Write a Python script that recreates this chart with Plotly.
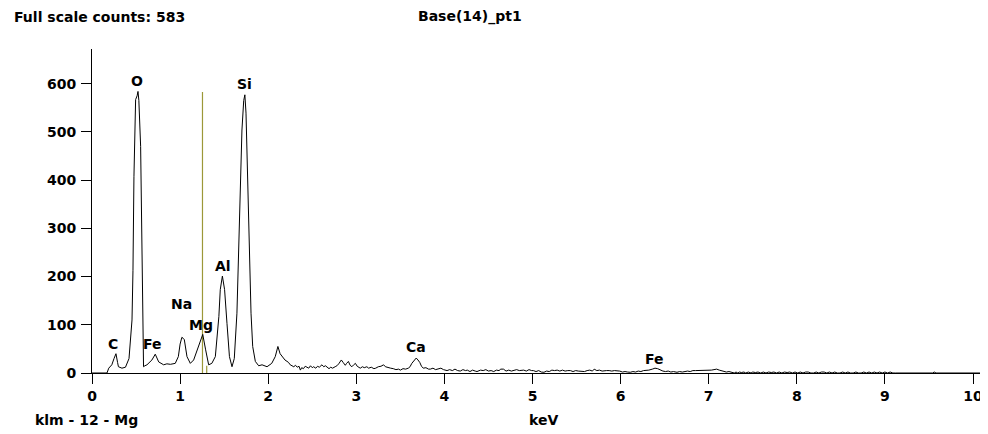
import plotly.graph_objects as go

# ---- data ----
energy_kev = [
    0.00, 0.17, 0.19, 0.225, 0.25, 0.272, 0.29, 0.30, 0.34, 0.38, 0.42, 0.44, 0.454, 0.465, 0.476,
    0.495, 0.512, 0.522, 0.532, 0.552, 0.563, 0.571, 0.578, 0.585, 0.60, 0.624, 0.68, 0.718, 0.757,
    0.813, 0.85, 0.89, 0.945, 0.98, 1.00, 1.02, 1.035, 1.048, 1.078, 1.116, 1.154, 1.21, 1.257,
    1.29, 1.324, 1.36, 1.40, 1.44, 1.456, 1.48, 1.505, 1.532, 1.56, 1.589, 1.615, 1.645, 1.664,
    1.683, 1.702, 1.722, 1.735, 1.748, 1.767, 1.786, 1.805, 1.824, 1.854, 1.892, 1.93, 1.987,
    2.04, 2.08, 2.11, 2.135, 2.17, 2.19, 2.23, 2.25,
    2.29, 2.31, 2.33, 2.35, 2.365, 2.38, 2.40, 2.42, 2.44, 2.46, 2.48, 2.50, 2.515, 2.54, 2.56,
    2.58, 2.61, 2.63, 2.65, 2.67, 2.69, 2.71, 2.73, 2.76, 2.78, 2.80, 2.83, 2.85, 2.875, 2.89,
    2.91, 2.93, 2.95, 2.97, 2.99, 3.01, 3.03, 3.045, 3.07, 3.09, 3.12, 3.14, 3.17, 3.20, 3.22,
    3.25, 3.28, 3.31, 3.33, 3.36, 3.39, 3.42, 3.45, 3.48, 3.50, 3.53, 3.56, 3.59, 3.61, 3.63,
    3.66, 3.68, 3.70, 3.72, 3.74, 3.76, 3.79, 3.82, 3.84, 3.87, 3.90, 3.93, 3.96, 3.99, 4.03,
    4.06, 4.09, 4.12, 4.15, 4.18, 4.21, 4.24, 4.26, 4.29, 4.32, 4.35, 4.37, 4.41, 4.44, 4.47,
    4.50, 4.53, 4.56, 4.59, 4.62, 4.64, 4.67, 4.70, 4.73, 4.76, 4.79, 4.82, 4.85, 4.88, 4.90,
    4.93, 4.96, 4.99, 5.01, 5.04, 5.07, 5.10, 5.13, 5.16, 5.19, 5.22, 5.25, 5.28, 5.31, 5.34,
    5.37, 5.40, 5.43, 5.46, 5.49, 5.52, 5.56, 5.59, 5.62, 5.65, 5.68, 5.70, 5.73, 5.76, 5.79,
    5.81, 5.84, 5.87, 5.90, 5.93, 5.96, 5.99, 6.02, 6.05, 6.08, 6.11, 6.14, 6.17, 6.20, 6.23,
    6.26, 6.29, 6.32, 6.36, 6.39, 6.42, 6.45, 6.48, 6.51, 6.54, 6.57, 6.60, 6.64, 6.67, 6.70,
    6.73, 6.76, 6.79, 6.82, 6.85, 6.88, 6.91, 6.94, 6.97, 7.00, 7.03, 7.06, 7.09, 7.12, 7.15,
    7.18, 7.20, 7.23, 7.26,
    7.29, 7.31, 7.33, 7.35, 7.37, 7.40, 7.42, 7.45, 7.48, 7.50, 7.53, 7.56, 7.59, 7.62, 7.65,
    7.68, 7.71, 7.74, 7.77, 7.80, 7.83, 7.86, 7.89, 7.92, 7.95, 7.98, 8.01, 8.04, 8.07, 8.10,
    8.13, 8.16, 8.19, 8.22, 8.25, 8.28, 8.31, 8.34, 8.37, 8.40, 8.43, 8.46, 8.49, 8.52, 8.55,
    8.58, 8.61, 8.64, 8.67, 8.70, 8.73, 8.76, 8.79, 8.82, 8.85, 8.88, 8.91, 8.94, 8.97, 9.00,
    9.03, 9.06, 9.09, 9.12, 9.54, 9.56, 9.58, 10.17,
]
counts = [
    0, 0, 10, 17, 30, 40, 22, 13, 10, 12, 30, 70, 110, 213, 407,
    567, 575, 584, 565, 470, 290, 110, 34, 13, 15, 17, 27, 39, 23,
    17, 19, 18, 20, 34, 60, 74, 72, 69, 34, 20, 27, 55, 80,
    48, 17, 20, 34, 117, 173, 201, 173, 103, 34, 13, 30, 124, 262,
    394, 504, 565, 577, 539, 401, 249, 124, 55, 24, 15, 17, 13,
    20, 34, 55, 40, 31, 27, 22, 17,
    13, 16, 12, 14, 6, 11, 9, 14, 12, 10, 15, 11, 13, 10, 14,
    12, 17, 13, 15, 11, 9, 12, 10, 13, 15, 19, 27, 22, 16, 20,
    24, 16, 13, 17, 20, 14, 12, 10, 13, 11, 13, 10, 12, 9, 10,
    13, 14, 17, 13, 11, 10, 9, 7, 8, 6, 9, 8, 10, 13, 20,
    28, 31, 27, 22, 14, 10, 11, 8, 8, 10, 7, 9, 10, 7, 5,
    7, 5, 8, 5, 4, 7, 5, 6, 3, 6, 4, 3, 6, 5, 7,
    4, 5, 3, 6, 5, 8, 8, 4, 6, 4, 5, 7, 5, 6, 6,
    4, 7, 5, 5, 3, 5, 2, 1.5, 4, 3, 6, 5, 6, 4, 6,
    4, 5, 5, 3, 5, 4, 3, 3, 5, 6, 4, 8, 5, 6, 4,
    5, 5, 5, 4, 5, 5, 4, 2, 3, 2, 1.5, 3, 2, 4, 3,
    5, 5, 6, 8, 10, 9, 6, 4, 3, 4, 2, 3, 1.5, 3, 2,
    3, 4, 3, 5, 5, 5, 6, 6, 5, 5, 6, 7, 8, 6, 5,
    3, 2, 3, 2,
    0, 2, 0, 2, 1, 2, 0, 2, 0, 2, 1, 2, 0, 2, 0,
    2, 1, 2, 0, 2, 0, 2, 1, 2, 0, 2, 0, 2, 0, 2,
    2, 0, 0, 2, 0, 2, 2, 0, 2, 0, 2, 0, 0, 2, 0,
    2, 0, 0, 2, 0, 0, 2, 0, 2, 0, 2, 0, 2, 0, 2,
    0, 2, 0, 0, 0, 2, 0, 0,
]

# element labels: (text, keV, counts)
label_text = ["C", "O", "Fe", "Na", "Mg", "Al", "Si", "Ca", "Fe"]
label_kev = [0.242, 0.514, 0.69, 1.014, 1.235, 1.485, 1.729, 3.675, 6.383]
label_cnt = [60, 606, 60, 143, 100, 222, 599, 53, 29]

# KLM marker lines for Mg
marker_kev = [1.254, 1.302]
marker_cnt = [583, 15]

x_ticks = list(range(0, 11))
y_ticks = [0, 100, 200, 300, 400, 500, 600]

FONT = "DejaVu Sans"
FS = 14

fig = go.Figure()

for mk, mc in zip(marker_kev, marker_cnt):
    fig.add_trace(go.Scatter(x=[mk, mk], y=[0, mc], mode="lines",
                             line=dict(color="#9c9838", width=1.2),
                             hoverinfo="skip", showlegend=False))

fig.add_trace(go.Scatter(x=energy_kev, y=counts, mode="lines",
                         line=dict(color="black", width=1),
                         showlegend=False, cliponaxis=False))

annotations = []
for t, xk, yc in zip(label_text, label_kev, label_cnt):
    annotations.append(dict(x=xk, y=yc, xref="x", yref="y", text=t, showarrow=False,
                            xanchor="center", yanchor="middle",
                            font=dict(family=FONT, size=FS, color="black", weight="bold")))

# plot area: 896 x 324 px
annotations += [
    dict(x=-0.0889, y=1.0988, xref="paper", yref="paper", text="Full scale counts: 583",
         showarrow=False, xanchor="left", yanchor="middle",
         font=dict(family=FONT, size=FS, color="black", weight="bold")),
    dict(x=0.422, y=1.0988, xref="paper", yref="paper", text="Base(14)_pt1",
         showarrow=False, xanchor="center", yanchor="middle",
         font=dict(family=FONT, size=FS, color="black", weight="bold")),
    dict(x=-0.0655, y=-0.145, xref="paper", yref="paper", text="klm - 12 - Mg",
         showarrow=False, xanchor="left", yanchor="middle",
         font=dict(family=FONT, size=FS, color="black", weight="bold")),
    dict(x=0.486, y=-0.145, xref="paper", yref="paper", text="keV",
         showarrow=False, xanchor="left", yanchor="middle",
         font=dict(family=FONT, size=FS, color="black", weight="bold")),
]

# page body has an 8px margin, so the figure is sized/margined to land the plot
# area at the same window pixels as the reference
fig.update_layout(
    width=980, height=426,
    margin=dict(l=84, r=0, t=41, b=61, pad=0),
    paper_bgcolor="white", plot_bgcolor="white",
    showlegend=False,
    annotations=annotations,
    xaxis=dict(range=[0, 10.17], tickvals=x_ticks, ticks="outside", ticklen=10,
               tickcolor="black", tickwidth=1, showline=True, linecolor="black",
               linewidth=1, showgrid=False, zeroline=False,
               tickfont=dict(family=FONT, size=FS, color="black", weight="bold")),
    yaxis=dict(range=[0, 672], tickvals=y_ticks, ticks="outside", ticklen=10,
               tickcolor="black", tickwidth=1, showline=True, linecolor="black",
               linewidth=1, showgrid=False, zeroline=False, ticklabelstandoff=2,
               tickfont=dict(family=FONT, size=FS, color="black", weight="bold")),
)

fig.write_html("out.html")
